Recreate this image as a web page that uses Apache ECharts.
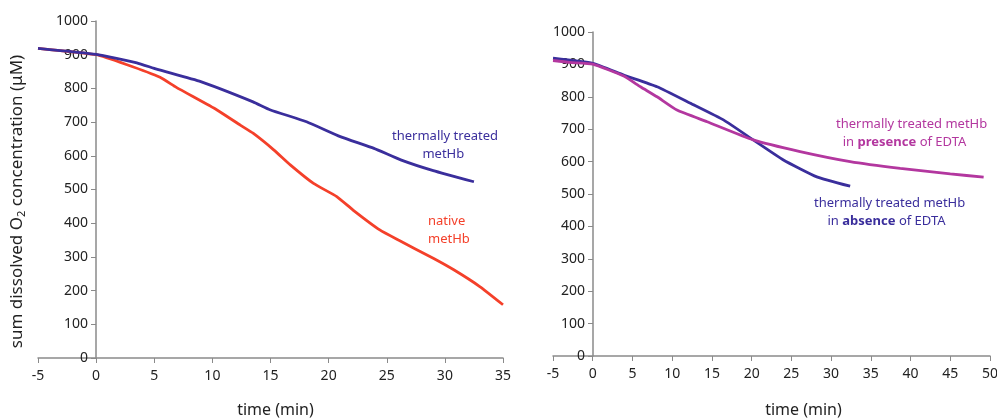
<!DOCTYPE html>
<html>
<head>
<meta charset="utf-8">
<script src="https://cdn.jsdelivr.net/npm/echarts@6/dist/echarts.min.js"></script>
<style>
    html, body { margin: 0; padding: 0; background: #fff; }
    #chart { width: 997px; height: 418px; }
</style>
</head>
<body>
<div id="chart"></div>
<script>
// left panel: [time (min), O2 (uM)]
let treatedLeft = [
    [-5, 919], [0, 901], [3.5, 876], [5.2, 857], [9, 820], [13.5, 760], [15, 736],
    [18.1, 701], [21, 657], [23.9, 622], [26.2, 588], [29, 556], [32.5, 523]
];
let nativeLeft = [
    [-5, 919], [0, 900], [2.6, 871], [5.5, 833], [6.9, 803], [10.4, 736],
    [12.4, 691], [13.5, 667], [15.3, 617], [16.7, 573], [18.7, 518], [20.7, 479],
    [22.1, 439], [24.4, 380], [26, 350], [29, 296], [30.8, 261], [33, 212], [35, 158]
];
// right panel
let absenceRight = [
    [-5, 919], [0, 903], [3.9, 867], [8.1, 831], [12.3, 780], [16.5, 728],
    [20.2, 667], [24, 605], [28.2, 553], [32.4, 524]
];
let presenceRight = [
    [-5, 912], [-2.9, 906], [0, 901], [3.9, 864], [6, 831], [8.1, 800],
    [10.6, 759], [14.4, 723], [20.2, 667], [26.1, 631], [32.4, 600],
    [38.7, 579], [45, 562], [49.2, 552]
];

let fontFamily = '"Noto Sans", "Open Sans", sans-serif';
let blue = '#3a2e9c';
let red = '#f4402a';
let magenta = '#b3379f';

function makeXAxis(gridIndex, max, opt) {
    return echarts.util.merge({
        type: 'value',
        gridIndex: gridIndex,
        min: -5,
        max: max,
        interval: 5,
        axisLine: { onZero: false, lineStyle: { color: '#8a8a8a', width: 1.5 } },
        axisTick: { show: true, length: 5, lineStyle: { color: '#8a8a8a' } },
        axisLabel: { color: '#222', fontSize: 14, fontFamily: fontFamily, margin: 11 },
        splitLine: { show: false },
        name: 'time (min)',
        nameLocation: 'middle',
        nameGap: 44,
        nameTextStyle: { color: '#222', fontSize: 16, fontFamily: fontFamily }
    }, opt || {}, true);
}

// the y axis sits at time = 0, so it is pulled into the grid with a negative offset
function makeYAxis(gridIndex, opt) {
    return echarts.util.merge({
        type: 'value',
        gridIndex: gridIndex,
        min: 0,
        max: 1000,
        interval: 100,
        axisLine: { show: true, onZero: false, lineStyle: { color: '#8a8a8a', width: 1.5 } },
        axisTick: { show: true, length: 5, lineStyle: { color: '#8a8a8a' } },
        axisLabel: {
            color: '#222', fontSize: 14, fontFamily: fontFamily, margin: 8,
            formatter: function (v) { return String(v); }
        },
        splitLine: { show: false },
        nameMoveOverlap: false
    }, opt || {}, true);
}

function makeLine(xAxisIndex, yAxisIndex, color, data) {
    return {
        type: 'line',
        xAxisIndex: xAxisIndex,
        yAxisIndex: yAxisIndex,
        data: data,
        smooth: 0.15,
        symbol: 'none',
        lineStyle: { color: color, width: 2.8 },
        z: color === magenta ? 3 : 2
    };
}

function label(left, top, color, text, rich) {
    return {
        type: 'text',
        left: left,
        top: top,
        style: {
            text: text,
            fill: color,
            font: '13px ' + fontFamily,
            lineHeight: 18,
            rich: rich || {}
        }
    };
}

let chart = echarts.init(document.getElementById('chart'));

let option = {
    animation: false,
    grid: [
        { left: 38, right: 494, top: 21, bottom: 60, outerBoundsMode: 'none', containLabel: false },
        { left: 553, right: 7, top: 32, bottom: 62, outerBoundsMode: 'none', containLabel: false }
    ],
    xAxis: [
        makeXAxis(0, 35, { nameTextStyle: { padding: [0, 0, 0, 10] } }),
        makeXAxis(1, 50, { nameGap: 46, nameTextStyle: { padding: [0, 0, 0, 64] } })
    ],
    yAxis: [
        makeYAxis(0, {
            offset: -58,
            name: 'sum dissolved O{sub|2} concentration (μM)',
            nameLocation: 'middle',
            nameGap: 69,
            nameTextStyle: {
                color: '#222', fontSize: 17, fontFamily: fontFamily,
                padding: [0, 24, 0, 0],
                rich: { sub: { fontSize: 11, verticalAlign: 'bottom', padding: [9, 0, 0, 0], color: '#222', fontFamily: fontFamily } }
            }
        }),
        makeYAxis(1, { offset: -40 })
    ],
    series: [
        makeLine(0, 0, red, nativeLeft),
        makeLine(0, 0, blue, treatedLeft),
        makeLine(1, 1, blue, absenceRight),
        makeLine(1, 1, magenta, presenceRight)
    ],
    graphic: [
        label(392, 127, blue, 'thermally treated\n         metHb'),
        label(428, 212, red, 'native\nmetHb'),
        label(836, 115, magenta, 'thermally treated metHb\n  in {b|presence} of EDTA',
            { b: { fontWeight: 'bold', fill: magenta, fontSize: 13, fontFamily: fontFamily } }),
        label(814, 194, blue, 'thermally treated metHb\n    in {b|absence} of EDTA',
            { b: { fontWeight: 'bold', fill: blue, fontSize: 13, fontFamily: fontFamily } })
    ]
};

chart.setOption(option);
</script>
</body>
</html>
